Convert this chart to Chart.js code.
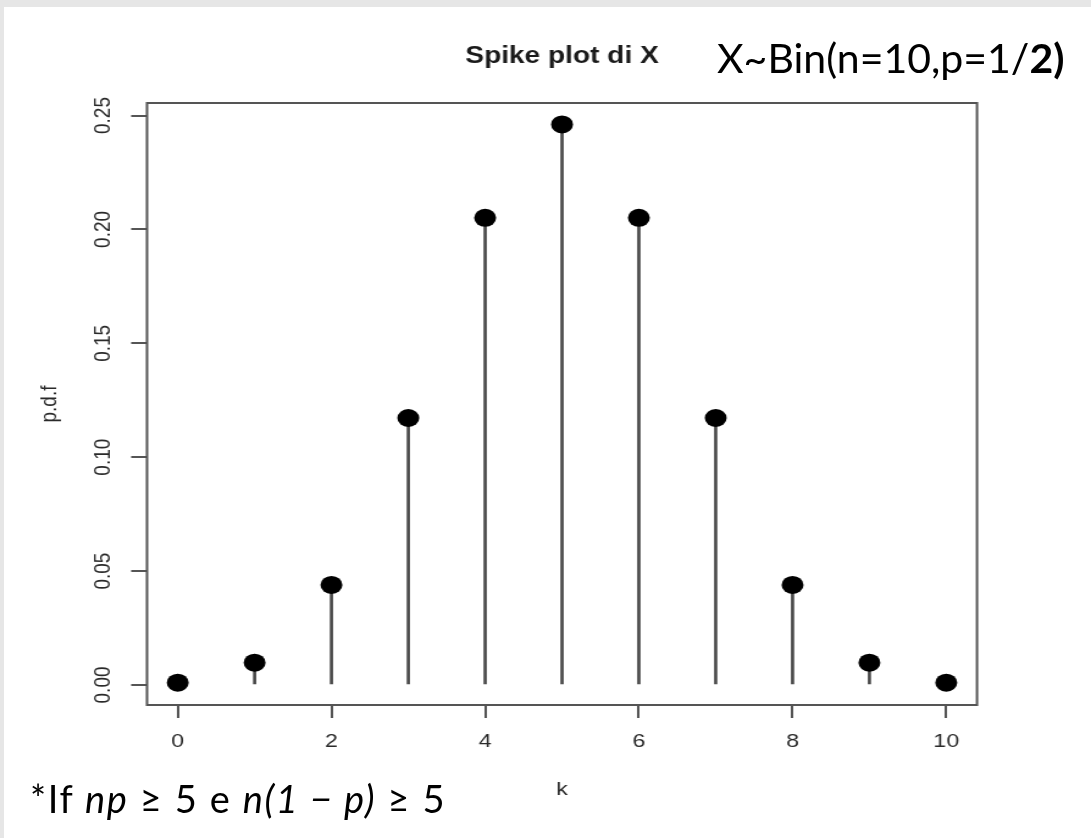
<!DOCTYPE html>
<html>
<head>
<meta charset="utf-8">
<script src="https://cdn.jsdelivr.net/npm/chart.js@4/dist/chart.umd.min.js"></script>
<style>
  html, body { margin: 0; padding: 0; }
  body { width: 1091px; height: 838px; background: #e6e6e6; position: relative; overflow: hidden; }
  #sheet { position: absolute; left: 4px; top: 7px; right: 0; bottom: 0; background: #fff; }
  #c { position: absolute; left: 0; top: 0; }
  .note { position: absolute; line-height: 1; white-space: nowrap; color: #000; }
  #dist { left: 717px; top: 37px; font-family: Lato, "Open Sans", sans-serif; font-size: 41px; }
  #dist b { font-weight: 700; }
  #cond { left: 30px; top: 779px; font-family: Lato, "Open Sans", sans-serif; font-weight: 400; font-size: 38px; letter-spacing: 1.6px; }
</style>
</head>
<body>
<div id="sheet"></div>
<canvas id="c" width="894" height="838" style="width:1091px;height:838px"></canvas>
<div class="note" id="dist">X~Bin(n=10,p=1/<b>2)</b></div>
<div class="note" id="cond">*If <i>np</i> ≥ 5 e <i>n(1 − p)</i> ≥ 5</div>

<script>
// valori
const k = [0, 1, 2, 3, 4, 5, 6, 7, 8, 9, 10];
const pdf = [0.001, 0.0098, 0.0439, 0.1172, 0.2051, 0.2461, 0.2051, 0.1172, 0.0439, 0.0098, 0.001];
const xTicksStep = 2;
const yTicksStep = 0.05;

const punti = k.map((v, i) => ({ x: v, y: pdf[i] }));

// il grafico originale e' leggermente allargato in orizzontale
const sx = 1091 / 894;
const fonte = "Liberation Sans, Arial, sans-serif";

const bordo = {
  id: "bordo",
  beforeDatasetsDraw(chart) {
    const a = chart.chartArea;
    const ctx = chart.ctx;
    ctx.save();
    ctx.strokeStyle = "#555";
    ctx.lineWidth = 2;
    ctx.strokeRect(a.left, a.top, a.right - a.left, a.bottom - a.top);
    ctx.restore();
  },
};

new Chart(document.getElementById("c"), {
  type: "bar",
  plugins: [bordo],
  data: {
    datasets: [
      {
        type: "line",
        data: punti,
        showLine: false,
        pointRadius: 9,
        pointHoverRadius: 9,
        pointBackgroundColor: "#000",
        pointBorderWidth: 0,
        order: 0,
      },
      {
        type: "bar",
        data: punti,
        backgroundColor: "#4a4a4a",
        barThickness: 2,
        order: 1,
      },
    ],
  },
  options: {
    responsive: false,
    animation: false,
    devicePixelRatio: 1,
    layout: {
      padding: { left: 0, right: 894 - 977 / sx, top: 0, bottom: 0 },
    },
    plugins: {
      legend: { display: false },
      tooltip: { enabled: false },
      title: {
        display: true,
        text: "Spike plot di X",
        fullSize: false,
        color: "#1a1a1a",
        font: { family: fonte, size: 23, weight: "bold" },
        padding: { top: 43.2, bottom: 32.2 },
      },
    },
    scales: {
      x: {
        type: "linear",
        min: -0.4,
        max: 10.4,
        offset: false,
        border: { display: false },
        grid: { offset: false, drawOnChartArea: false, drawTicks: true, tickLength: 13, color: "#555", lineWidth: 2 },
        ticks: {
          stepSize: xTicksStep,
          includeBounds: false,
          autoSkip: false,
          maxRotation: 0,
          padding: 12.6,
          color: "#2a2a2a",
          font: { family: fonte, size: 19 },
        },
        title: {
          display: true,
          text: "k",
          color: "#2a2a2a",
          font: { family: fonte, size: 19 },
          padding: { top: 0, bottom: 36.6 },
        },
        afterFit(scale) {
          scale.height = 838 - 705;
          scale.paddingLeft = 0;
          scale.paddingRight = 0;
        },
      },
      y: {
        min: -0.0088,
        max: 0.2555,
        border: { display: false },
        grid: { drawOnChartArea: false, drawTicks: true, tickLength: 13, color: "#555", lineWidth: 2 },
        ticks: {
          stepSize: yTicksStep,
          includeBounds: false,
          autoSkip: false,
          minRotation: 90,
          maxRotation: 90,
          crossAlign: "center",
          padding: 4,
          color: "#2a2a2a",
          font: { family: fonte, size: 19 },
          callback: (v) => v.toFixed(2),
        },
        title: {
          display: true,
          text: "p.d.f",
          color: "#2a2a2a",
          font: { family: fonte, size: 19 },
          padding: { top: 29.6, bottom: 0 },
        },
        afterFit(scale) {
          scale.width = 147 / sx;
          scale.paddingTop = 0;
          scale.paddingBottom = 0;
        },
      },
    },
  },
});
</script>
</body>
</html>
